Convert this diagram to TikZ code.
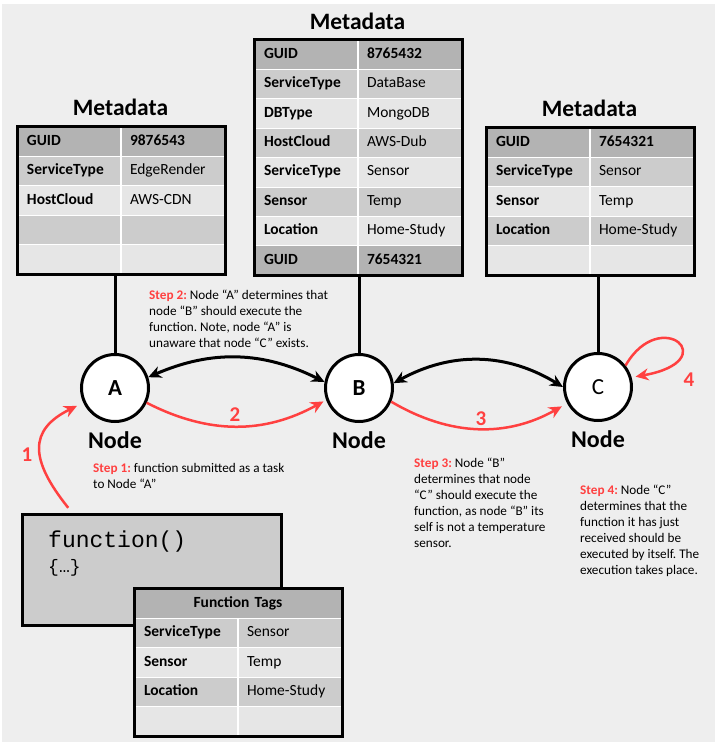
\documentclass[tikz,border=0pt]{standalone}
\usepackage{fontspec}
\setmainfont{Carlito}
\newfontfamily\codefont{Liberation Mono}
\usetikzlibrary{positioning,arrows.meta}
\definecolor{canvas}{HTML}{EEEEEE}
\definecolor{rowdark}{HTML}{B3B3B3}
\definecolor{rowmid}{HTML}{CCCCCC}
\definecolor{rowlight}{HTML}{E6E6E6}
\definecolor{hot}{HTML}{FF4040}
\newcommand{\stepred}[1]{\textcolor{hot}{\textbf{Step #1:}}}
\frenchspacing

\begin{document}
\begin{tikzpicture}[x=1pt,y=1pt,>={Stealth[length=13pt,width=12pt]},
  cellk/.style={draw=white,line width=1pt,anchor=north west,minimum height=29.4pt,text width=84pt,inner xsep=9pt,inner ysep=0pt,align=left,text height=10pt,text depth=3pt,font=\fontsize{15.5}{17}\selectfont\bfseries},
  cellv/.style={cellk,text width=86pt,font=\fontsize{15.5}{17}\selectfont},
  tabframe/.style={draw=black,line width=3pt},
  metatitle/.style={font=\fontsize{23.5}{27}\selectfont\bfseries,inner sep=0pt},
  peer/.style={circle,draw,line width=3pt,fill=white,minimum size=67pt,inner sep=0pt,font=\fontsize{23}{26}\selectfont},
  peerlab/.style={font=\fontsize{24}{27}\selectfont\bfseries,inner sep=0pt},
  link/.style={line width=3pt},
  duplex/.style={line width=3pt,<->},
  flow/.style={draw=hot,line width=2.5pt,->},
  stepno/.style={text=hot,font=\fontsize{21}{24}\selectfont\bfseries,inner sep=0pt},
  note/.style={anchor=north west,inner sep=0pt,align=left,font=\fontsize{13.2}{16}\selectfont},
  fnbox/.style={draw=black,line width=3pt,fill=rowmid,minimum width=259pt,minimum height=111pt,anchor=north west},
  code/.style={font=\codefont\fontsize{23}{26}\selectfont,inner sep=0pt,anchor=west}]

\useasboundingbox (0,0) rectangle (726,-742);
\fill[white] (0,0) rectangle (726,-742);
\fill[canvas] (2,-4) rectangle (715,-742);

% peers
\node[peer] (A) at (115,-388) {\textbf{A}};
\node[peer] (B) at (359,-388) {\textbf{B}};
\node[peer] (C) at (598,-387) {C};
\foreach \p in {A,B,C}{%
  \node[peerlab,below=8pt of \p] (\p n) {Node};}

% metadata tables
\foreach \k/\v/\c [count=\r] in {GUID/\textbf{9876543}/rowdark, ServiceType/EdgeRender/rowmid, HostCloud/AWS-CDN/rowlight, {}/{}/rowmid, {}/{}/rowlight}{%
  \node[cellk,fill=\c] (lk\r) at (17.5,{-126.5-(\r-1)*29.4}) {\k};
  \node[cellv,fill=\c,right=0pt of lk\r] (lv\r) {\v};}
\foreach \k/\v/\c [count=\r] in {GUID/\textbf{8765432}/rowdark, ServiceType/DataBase/rowmid, DBType/MongoDB/rowlight, HostCloud/AWS-Dub/rowmid, ServiceType/Sensor/rowlight, Sensor/Temp/rowmid, Location/Home-Study/rowlight, GUID/\textbf{7654321}/rowdark}{%
  \node[cellk,fill=\c] (mk\r) at (254.5,{-39.5-(\r-1)*29.4}) {\k};
  \node[cellv,fill=\c,right=0pt of mk\r] (mv\r) {\v};}
\foreach \k/\v/\c [count=\r] in {GUID/\textbf{7654321}/rowdark, ServiceType/Sensor/rowmid, Sensor/Temp/rowlight, Location/Home-Study/rowmid, {}/{}/rowlight}{%
  \node[cellk,fill=\c] (rk\r) at (486.5,{-127.5-(\r-1)*29.4}) {\k};
  \node[cellv,fill=\c,right=0pt of rk\r] (rv\r) {\v};}
\draw[tabframe] (lk1.north west) rectangle (lv5.south east);
\draw[tabframe] (mk1.north west) rectangle (mv8.south east);
\draw[tabframe] (rk1.north west) rectangle (rv5.south east);
\node[metatitle,above=11pt of lk1.north east] (lt) {Metadata};
\node[metatitle,above=10pt of mk1.north east] (mt) {Metadata};
\node[metatitle,above=11pt of rk1.north east] (rt) {Metadata};

\draw[link] (A) -- (A |- lk5.south);
\draw[link] (B) -- (B |- mk8.south);
\draw[link] (C) -- (C |- rk5.south);

% function and its tags
\node[fnbox] (fbox) at (20.5,-512.5) {};
\node[code] (fsig) at ([xshift=27.5pt,yshift=-29.5pt]fbox.north west) {function()};
\node[code,font=\codefont\fontsize{18}{20}\selectfont] (fbody) at ([yshift=-26pt]fsig.west) {\{…\}};
\node[cellk,fill=rowdark,text width=188pt,align=center] (fh) at (134.5,-588.5) {Function Tags};
\foreach \k/\v/\c [count=\r] in {ServiceType/Sensor/rowmid, Sensor/Temp/rowlight, Location/Home-Study/rowmid, {}/{}/rowlight}{%
  \node[cellk,fill=\c] (fk\r) at (134.5,{-588.5-\r*29.4}) {\k};
  \node[cellv,fill=\c,right=0pt of fk\r] (fv\r) {\v};}
\draw[tabframe] (fh.north west) rectangle (fv4.south east);

% arrows
\draw[duplex] (A.18) to[bend left=25] (B.170);
\draw[duplex] (B.8) to[bend left=30] (C.180);
\draw[flow,shorten >=3pt] (A.-25) to[bend right=28] (B.200);
\draw[flow,shorten >=6pt] (B.-23) to[bend right=30] (C.208);
\draw[flow,shorten <=6pt,shorten >=7pt] ([xshift=51.5pt]fbox.north west) .. controls (30,-460) and (28,-430) .. (A.205);
\draw[flow,shorten >=4pt] (C.38) .. controls +(60:70) and +(10:95) .. (C.16);
\node[stepno] (n1) at (27,-455) {1};
\node[stepno] (n2) at (235,-415) {2};
\node[stepno] (n3) at (481,-419) {3};
\node[stepno] (n4) at (689,-380) {4};

% step notes
\node[note] (s1) at (93,-463) {\stepred{1} function submitted as a task\\to Node “A”};
\node[note] (s2) at (149,-290) {\stepred{2} Node “A” determines that\\node “B” should execute the\\function. Note, node “A” is\\unaware that node “C” exists.};
\node[note] (s3) at (414,-458) {\stepred{3} Node “B”\\determines that node\\“C” should execute the\\function, as node “B” its\\self is not a temperature\\sensor.};
\node[note] (s4) at (580,-485) {\stepred{4} Node “C”\\determines that the\\function it has just\\received should be\\executed by itself. The\\execution takes place.};
\end{tikzpicture}
\end{document}
